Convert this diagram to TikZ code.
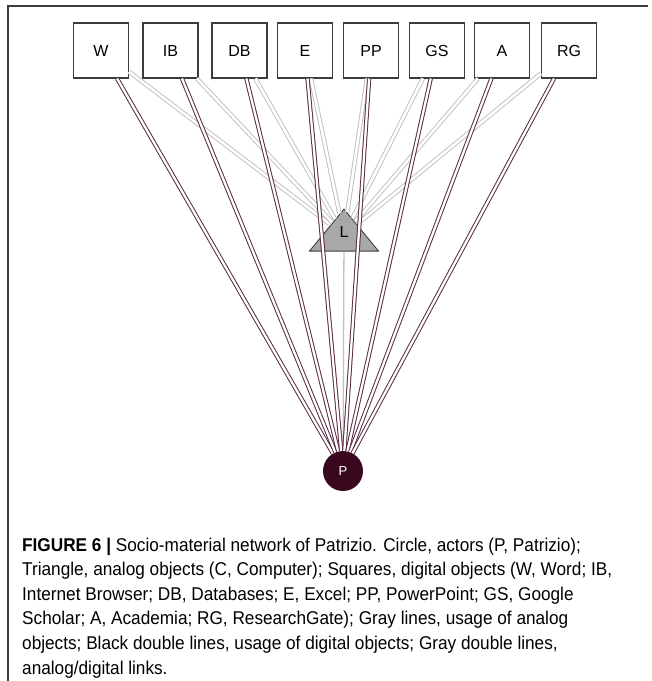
\documentclass[tikz,border=0pt]{standalone}
\usepackage{fontspec}
\setmainfont{Liberation Sans}
\newfontfamily\capfont[FakeStretch=0.93]{Liberation Sans}
\usetikzlibrary{shapes.geometric}
\definecolor{actor}{RGB}{58,8,30}
\definecolor{digline}{RGB}{90,45,68}
\definecolor{anline}{RGB}{195,195,195}
\definecolor{framecol}{RGB}{60,60,60}
\definecolor{trifill}{RGB}{168,168,168}
\begin{document}
\begin{tikzpicture}[x=1pt,y=-1pt,
  obj/.style={draw=framecol,line width=1.1pt,fill=white,minimum size=55pt,inner sep=0pt,
    font=\fontsize{16}{16}\selectfont},
  analog/.style={draw=framecol,line width=0.9pt,fill=trifill,isosceles triangle,
    isosceles triangle stretches,shape border rotate=90,minimum width=69pt,
    minimum height=42pt,inner sep=0pt,font=\fontsize{16}{16}\selectfont},
  actornode/.style={circle,fill=actor,minimum size=40pt,inner sep=0pt,text=white,
    font=\fontsize{13}{13}\selectfont},
  diglink/.style={draw=digline,double=white,line width=1pt,double distance=2.3pt},
  anlink/.style={draw=anline,double=white,line width=1pt,double distance=2.5pt},
  uselink/.style={draw=anline,line width=1.3pt},
  capline/.style={anchor=base west,inner sep=0pt,font=\capfont\fontsize{18.5}{18.5}\selectfont},
  rule/.style={draw=framecol,line width=1.2pt}]
\useasboundingbox (0,0) rectangle (652,681);

% frame of the caption block
\draw[rule] (8,681) -- (8,6) -- (648,6);

% digital objects
\node[obj] (W)  at (101,50.5) {W};
\node[obj] (IB) at (170.5,50.5) {IB};
\node[obj] (DB) at (239.5,50.5) {DB};
\node[obj] (E)  at (305,50.5) {E};
\node[obj] (PP) at (371,50.5) {PP};
\node[obj] (GS) at (437,50.5) {GS};
\node[obj] (A)  at (502,50.5) {A};
\node[obj] (RG) at (569,50.5) {RG};

% analog object and actor
\node[analog] (L) at (344,235) {\raisebox{6pt}{L}};
\node[actornode] (P) at (343,471) {P};

% analog/digital links
\foreach \s in {W,IB,DB,E,PP,GS,A,RG}
  \draw[anlink] (\s) -- (L);
% usage of the analog object
\draw[uselink] (L) -- (P);
% usage of digital objects
\foreach \s in {W,IB,DB,E,PP,GS,A,RG}
  \draw[diglink] (\s) -- (P);

% caption
\node[capline] (c1) at (22,551) {\textbf{FIGURE 6 |} Socio-material network of Patrizio. Circle, actors (P, Patrizio);};
\node[capline] (c2) at (22,575.6) {Triangle, analog objects (C, Computer); Squares, digital objects (W, Word; IB,};
\node[capline] (c3) at (22,600.2) {Internet Browser; DB, Databases; E, Excel; PP, PowerPoint; GS, Google};
\node[capline] (c4) at (22,624.8) {Scholar; A, Academia; RG, ResearchGate); Gray lines, usage of analog};
\node[capline] (c5) at (22,649.4) {objects; Black double lines, usage of digital objects; Gray double lines,};
\node[capline] (c6) at (22,674) {analog/digital links.};
\end{tikzpicture}
\end{document}
